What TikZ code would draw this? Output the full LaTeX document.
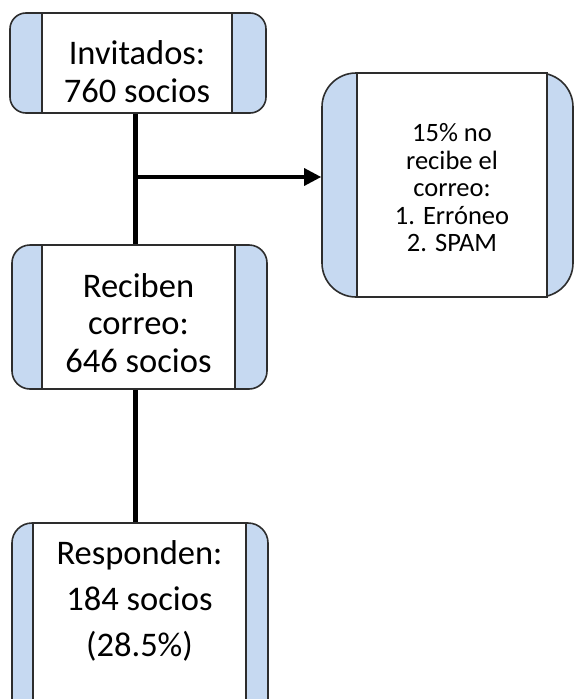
\documentclass[tikz,border=0pt]{standalone}
\usepackage{fontspec}
\setmainfont{Carlito}
\usetikzlibrary{arrows.meta}
\definecolor{sidefill}{RGB}{198,217,241}
\definecolor{edge}{RGB}{45,45,45}
\begin{document}
\begin{tikzpicture}[x=1pt,y=-1pt,
  outerbox/.style={draw=edge, line width=1.6pt, fill=sidefill, rectangle, inner sep=0pt},
  innerbox/.style={draw=edge, line width=1.6pt, fill=white, rectangle, inner sep=0pt},
  txt/.style={align=center, inner sep=0pt, text=black},
  link/.style={line width=5pt, black},
  branch/.style={line width=3.2pt, black, -{Triangle[length=17pt,width=17pt]}}]
\path[use as bounding box] (0,0) rectangle (574,699);
\clip (0,0) rectangle (574,699);
% Box 1
\node[outerbox, rounded corners=16pt, minimum width=256pt, minimum height=100pt] (o1) at (138,63) {};
\node[innerbox, minimum width=190pt, minimum height=100pt] (b1) at (137,63) {};
\node[txt, font=\fontsize{34.5}{38}\selectfont] (t1) at (137,72) {Invitados:\\760 socios};
% Box 2
\node[outerbox, rounded corners=34pt, minimum width=251pt, minimum height=224pt] (o2) at (447.5,185) {};
\node[innerbox, minimum width=190pt, minimum height=224pt] (b2) at (452,185) {};
\node[txt, font=\fontsize{26.5}{27.5}\selectfont] (t2) at (452,188) {15\% no\\recibe el\\correo:\\1. Erróneo\\2. SPAM};
% Box 3
\node[outerbox, rounded corners=18pt, minimum width=255pt, minimum height=144pt] (o3) at (139.5,317) {};
\node[innerbox, minimum width=193pt, minimum height=144pt] (b3) at (138.5,317) {};
\node[txt, font=\fontsize{34.5}{37.5}\selectfont] (t3) at (138.5,323) {Reciben\\correo:\\646 socios};
% Box 4
\node[outerbox, rounded corners=20pt, minimum width=256pt, minimum height=200pt] (o4) at (140,623) {};
\node[innerbox, minimum width=213pt, minimum height=200pt] (b4) at (139.5,623) {};
\node[txt, font=\fontsize{34.5}{46}\selectfont] (t4) at (139.5,601) {Responden:\\184 socios\\(28.5\%)};
% Connectors
\coordinate (j) at (135,177);
\draw[link] (b1.south -| j) -- (b3.north -| j);
\draw[link] (b3.south -| j) -- (b4.north -| j);
\draw[branch] (j) -- (o2.west |- j);
\end{tikzpicture}
\end{document}
